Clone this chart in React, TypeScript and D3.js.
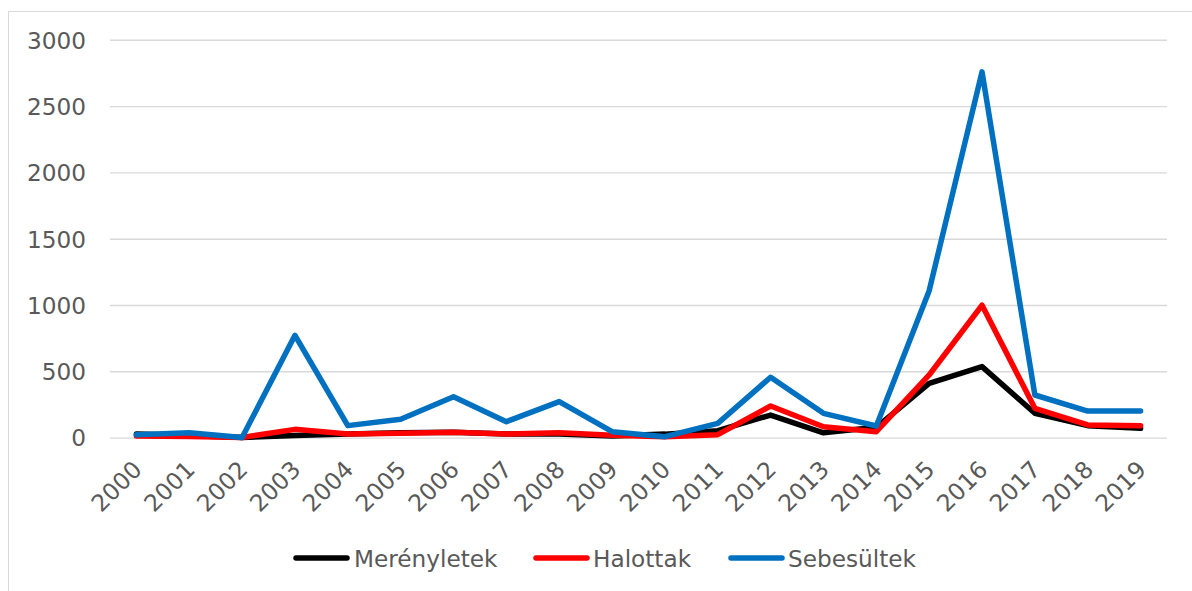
import React from "react";
import * as d3 from "d3";

const years = ["2000","2001","2002","2003","2004","2005","2006","2007","2008","2009","2010","2011","2012","2013","2014","2015","2016","2017","2018","2019"];
const merenyletek = [30, 20, 5, 20, 30, 40, 45, 30, 30, 15, 30, 56, 174, 40, 81, 413, 539, 187, 94, 74];
const halottak = [16, 12, 5, 66, 31, 36, 44, 31, 41, 21, 11, 26, 242, 86, 48, 476, 1002, 225, 99, 94];
const sebesultek = [25, 41, 5, 775, 94, 142, 312, 124, 275, 48, 11, 111, 459, 187, 91, 1112, 2762, 325, 204, 205];
const yTicks = [0, 500, 1000, 1500, 2000, 2500, 3000];

const seriesNames = ["Merényletek", "Halottak", "Sebesültek"];
const seriesColors = ["#000000", "#FF0000", "#0070C0"];
const seriesData = [merenyletek, halottak, sebesultek];

const FONT = "'DejaVu Sans', Verdana, sans-serif";
const TXT = "#595959";

export default function App() {
  const W = 1192, H = 591;
  const left = 110, right = 1167, top = 40.3, bottom = 438.1;
  const x = d3.scaleBand<string>().domain(years).range([left, right]);
  const y = d3.scaleLinear().domain([0, 3000]).range([bottom, top]);
  const cx = (yr: string) => (x(yr) as number) + x.bandwidth() / 2;
  const line = d3.line<number>().x((_, i) => cx(years[i])).y((d) => y(d));

  const legendItems = [
    { lx: 294, tx: 354 },
    { lx: 534, tx: 593 },
    { lx: 729, tx: 788 },
  ];

  return (
    <svg width={W} height={H} style={{ position: "absolute", left: 0, top: 0, background: "#fff" }}>
      <rect x={8.5} y={11.5} width={1200} height={600} fill="#fff" stroke="#d9d9d9" strokeWidth={1} />
      {yTicks.map((t) => (
        <g key={t}>
          <line x1={left} x2={right} y1={y(t)} y2={y(t)} stroke="#d9d9d9" strokeWidth={1.4} />
          <text x={86} y={y(t)} dy="0.36em" textAnchor="end" fontFamily={FONT} fontSize={23.2} fill={TXT}>{t}</text>
        </g>
      ))}
      {years.map((yr) => (
        <text key={yr} transform={`translate(${cx(yr) + 7},${471}) rotate(-45)`} textAnchor="end" fontFamily={FONT} fontSize={23.5} fill={TXT}>{yr}</text>
      ))}
      {seriesData.map((s, i) => (
        <path key={i} d={line(s) as string} fill="none" stroke={seriesColors[i]} strokeWidth={5.5} strokeLinejoin="round" strokeLinecap="round" />
      ))}
      {seriesNames.map((n, i) => (
        <g key={n}>
          <line x1={legendItems[i].lx + 2} x2={legendItems[i].lx + 53} y1={558} y2={558} stroke={seriesColors[i]} strokeWidth={5.5} strokeLinecap="round" />
          <text x={legendItems[i].tx} y={566.5} fontFamily={FONT} fontSize={23.2} fill={TXT}>{n}</text>
        </g>
      ))}
    </svg>
  );
}
